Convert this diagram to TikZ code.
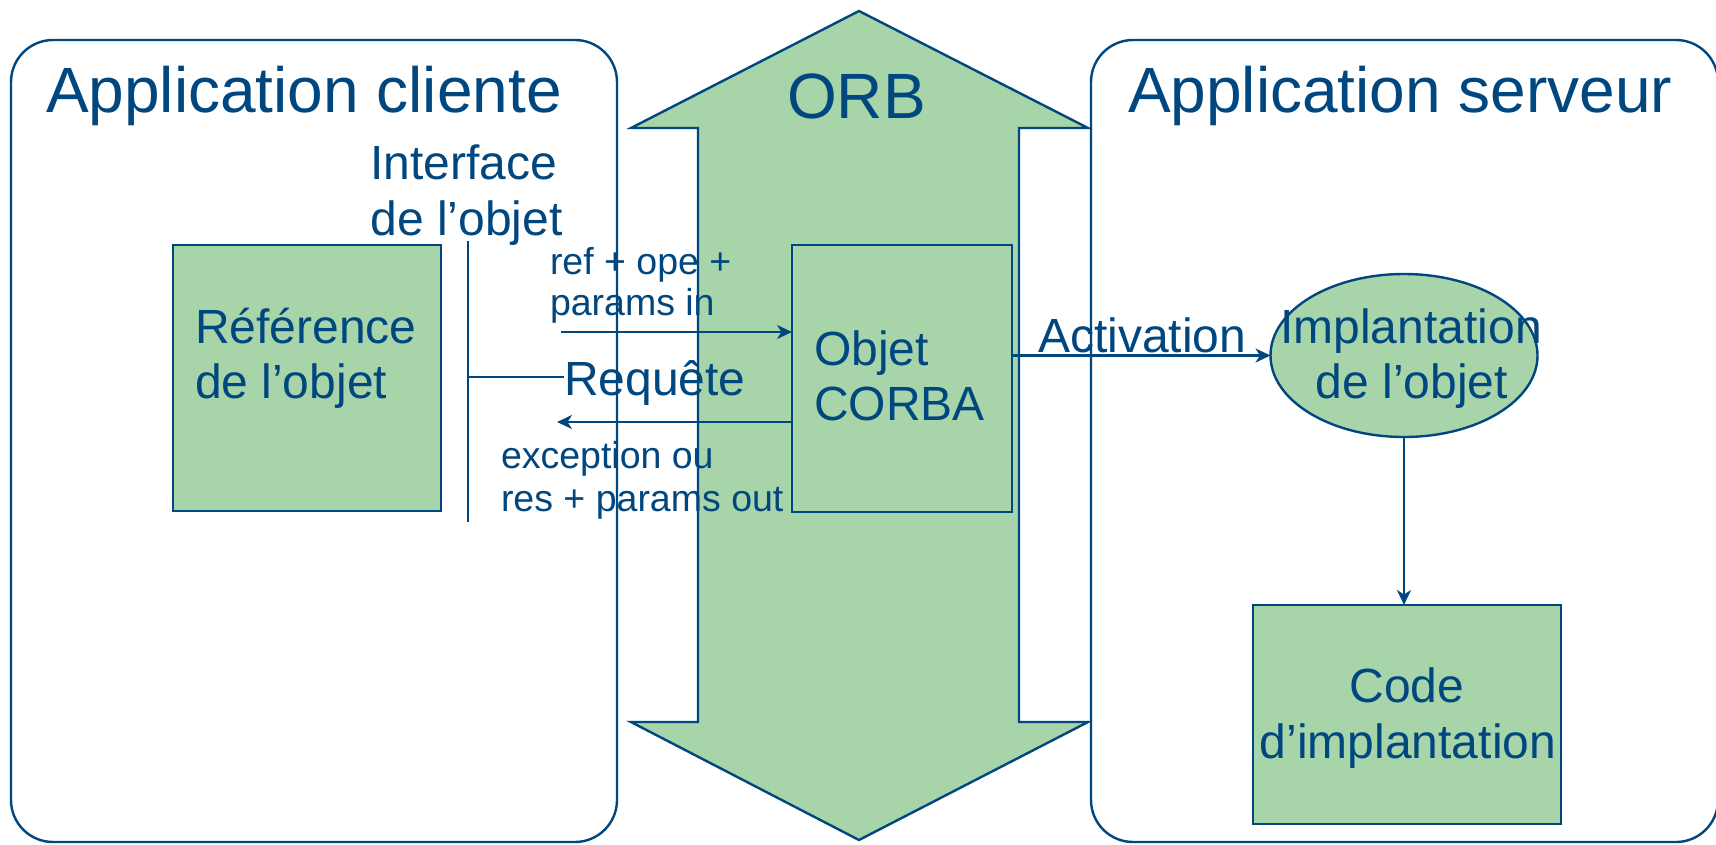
\documentclass[tikz,border=0pt]{standalone}
\usepackage{fontspec}
\setmainfont{Liberation Sans}
\usetikzlibrary{shapes.geometric,arrows.meta}
\definecolor{ink}{HTML}{00467F}
\definecolor{leaf}{HTML}{A8D4AA}

\begin{document}
\begin{tikzpicture}[x=1pt,y=-1pt,
  every node/.style={inner sep=0pt, outer sep=0pt, text=ink},
  frame/.style={rectangle, draw=ink, line width=2.4pt, rounded corners=42pt},
  greenbox/.style={rectangle, draw=ink, fill=leaf, line width=2.8pt},
  link/.style={draw=ink, line width=2.1pt},
  arr/.style={link, -{Stealth[length=15pt,width=14pt,inset=4.5pt]}},
  big/.style={font=\fontsize{64}{76}\selectfont},
  mid/.style={font=\fontsize{48}{56}\selectfont},
  small/.style={font=\fontsize{37.5}{42}\selectfont},
]
\useasboundingbox (0,0) rectangle (1716,844);
\fill[white] (0,0) rectangle (1716,844);

% the two application frames
\node[frame, minimum width=606pt, minimum height=802pt] (client) at (314,441) {};
\node[frame, minimum width=627pt, minimum height=802pt] (server) at (1404.5,441) {};

% ORB: vertical double-headed arrow
\draw[draw=ink, fill=leaf, line width=2.4pt, line join=miter]
  (859,11) -- (1088,128) -- (1019,128) -- (1019,722) -- (1088,722)
  -- (859,840) -- (631,722) -- (698,722) -- (698,128) -- (631,128) -- cycle;

% boxes
\node[greenbox, minimum width=268pt, minimum height=266pt] (ref) at (307,378) {};
\node[greenbox, minimum width=220pt, minimum height=267pt] (corba) at (902,378.5) {};
\node[ellipse, draw=ink, fill=leaf, line width=2.4pt, minimum width=267pt, minimum height=163pt] (impl) at (1404,355.5) {};
\node[greenbox, minimum width=308pt, minimum height=219pt] (code) at (1407,714.5) {};

% titles
\node[big, anchor=base west] (tclient) at (46,112) {Application cliente};
\node[big, anchor=base west] (torb) at (787,118) {ORB};
\node[big, anchor=base west] (tserver) at (1128,112) {Application serveur};

% texts
\node[mid, anchor=base west] (if1) at (370.5,179) {Interface};
\node[mid, anchor=base west] (if2) at (370.5,235) {de l’objet};
\node[mid, anchor=base west] (ref1) at (195,343) {Référence};
\node[mid, anchor=base west] (ref2) at (195,398) {de l’objet};
\node[small, anchor=base west] (in1) at (550,274) {ref + ope +};
\node[small, anchor=base west] (in2) at (550,315) {params in};
\node[mid, anchor=base west] (requete) at (564,395) {Requête};
\node[small, anchor=base west] (out1) at (501,468) {exception ou};
\node[small, anchor=base west] (out2) at (501,511) {res + params out};
\node[mid, anchor=base west] (obj1) at (814,365) {Objet};
\node[mid, anchor=base west] (obj2) at (814,420) {CORBA};
\node[mid, anchor=base west] (activ) at (1038,352) {Activation};
\node[mid, anchor=base] (impl1) at (1411,343) {Implantation};
\node[mid, anchor=base] (impl2) at (1412,398) {de l’objet};
\node[mid, anchor=base] (code1) at (1407,702) {Code};
\node[mid, anchor=base] (code2) at (1408,758) {d’implantation};

% interface stub
\coordinate (ifTop) at (468,241);
\coordinate (ifBot) at (468,522);
\coordinate (ifMid) at (468,377);
\draw[link] (ifTop) -- (ifBot);
\draw[link] (ifMid) -- (ifMid -| requete.west);

% request and reply
\coordinate (reqStart) at (561,332);
\coordinate (retEnd) at (557,422);
\draw[arr] (reqStart) -- (reqStart -| corba.west);
\draw[arr] (retEnd -| corba.west) -- (retEnd);

% activation and implementation code
\draw[arr] (corba.east |- impl.west) -- (impl.west);
\draw[arr] (impl.south) -- (impl.south |- code.north);
\end{tikzpicture}
\end{document}
